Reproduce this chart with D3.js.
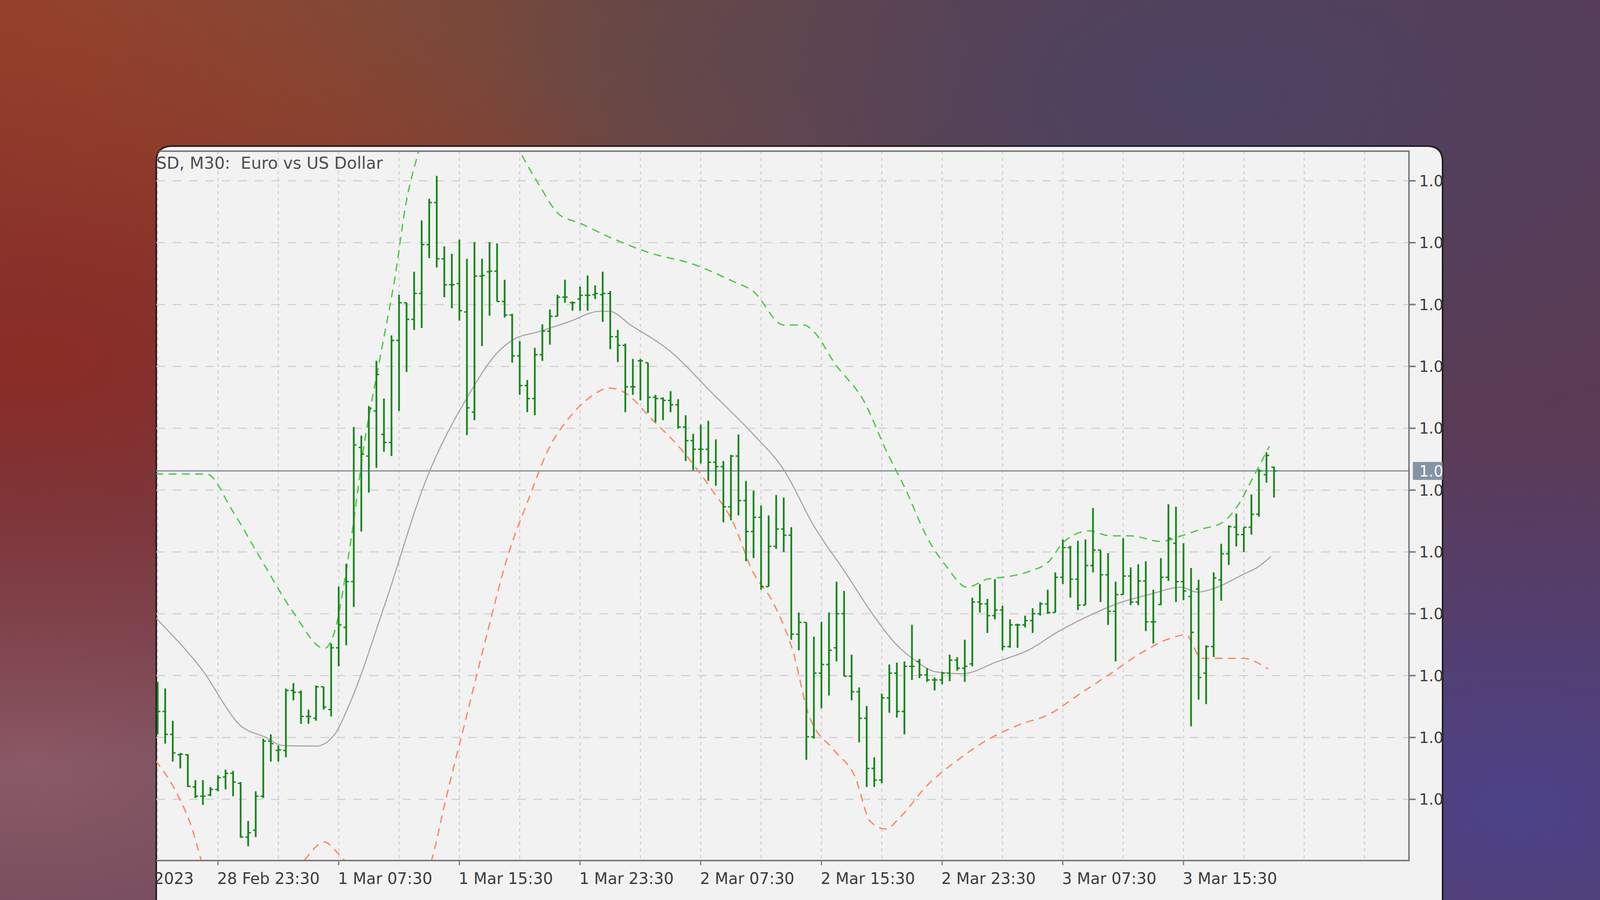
<!DOCTYPE html>
<html><head><meta charset="utf-8">
<script src="https://cdn.jsdelivr.net/npm/d3@7"></script>
<style>html,body{margin:0;padding:0;overflow:hidden;background:#5a3d55}</style>
</head><body>
<script>
// ===== DATA (EURUSD M30, bar 0 = 28 Feb 19:30) =====
const opens=[1.06038,1.06042,1.06005,1.05972,1.05972,1.05920,1.05905,1.05907,1.05916,1.05936,1.05942,1.05926,1.05839,1.05850,1.05905,1.05994,1.05979,1.05979,1.06076,1.06073,1.06034,1.06031,1.06082,1.06045,1.06145,1.06178,1.06252,1.06469,1.06455,1.06528,1.06490,1.06477,1.06642,1.06703,1.06676,1.06718,1.06797,1.06865,1.06774,1.06732,1.06734,1.06688,1.06526,1.06746,1.06753,1.06754,1.06705,1.06683,1.06617,1.06569,1.06548,1.06619,1.06657,1.06681,1.06712,1.06703,1.06709,1.06715,1.06716,1.06716,1.06718,1.06648,1.06634,1.06567,1.06609,1.06606,1.06550,1.06548,1.06545,1.06538,1.06502,1.06480,1.06466,1.06466,1.06445,1.06438,1.06373,1.06455,1.06383,1.06333,1.06356,1.06244,1.06309,1.06337,1.06327,1.06167,1.06186,1.06001,1.06104,1.06118,1.06145,1.06200,1.06099,1.06074,1.06031,1.05950,1.05931,1.06064,1.06104,1.06042,1.06115,1.06123,1.06101,1.06093,1.06093,1.06104,1.06125,1.06112,1.06119,1.06219,1.06216,1.06197,1.06206,1.06147,1.06182,1.06182,1.06189,1.06200,1.06216,1.06202,1.06259,1.06307,1.06256,1.06214,1.06278,1.06303,1.06263,1.06204,1.06231,1.06261,1.06219,1.06253,1.06187,1.06215,1.06259,1.06314,1.06252,1.06228,1.06240,1.06104,1.06147,1.06255,1.06297,1.06340,1.06328,1.06340,1.06361,1.06425,1.06437];
const highs=[1.06090,1.06079,1.06027,1.05975,1.05973,1.05931,1.05931,1.05920,1.05939,1.05948,1.05946,1.05928,1.05865,1.05913,1.05998,1.06005,1.05987,1.06079,1.06088,1.06076,1.06045,1.06084,1.06082,1.06152,1.06244,1.06281,1.06502,1.06488,1.06536,1.06609,1.06548,1.06650,1.06716,1.06703,1.06753,1.06836,1.06871,1.06908,1.06794,1.06782,1.06805,1.06774,1.06801,1.06774,1.06801,1.06799,1.06740,1.06685,1.06641,1.06578,1.06630,1.06668,1.06692,1.06716,1.06740,1.06705,1.06729,1.06747,1.06731,1.06753,1.06722,1.06659,1.06637,1.06612,1.06612,1.06606,1.06554,1.06550,1.06560,1.06547,1.06521,1.06491,1.06506,1.06512,1.06482,1.06447,1.06457,1.06490,1.06415,1.06399,1.06375,1.06359,1.06392,1.06388,1.06340,1.06202,1.06186,1.06163,1.06187,1.06202,1.06252,1.06237,1.06134,1.06081,1.06051,1.05968,1.06071,1.06118,1.06121,1.06123,1.06182,1.06127,1.06112,1.06097,1.06106,1.06134,1.06130,1.06158,1.06226,1.06248,1.06224,1.06256,1.06213,1.06191,1.06184,1.06197,1.06209,1.06219,1.06239,1.06267,1.06320,1.06310,1.06318,1.06320,1.06371,1.06303,1.06298,1.06252,1.06322,1.06275,1.06280,1.06285,1.06239,1.06290,1.06377,1.06373,1.06314,1.06274,1.06255,1.06149,1.06267,1.06313,1.06343,1.06362,1.06340,1.06393,1.06434,1.06461,1.06438];
const lows=[1.06005,1.05990,1.05961,1.05950,1.05920,1.05902,1.05891,1.05905,1.05913,1.05916,1.05905,1.05838,1.05824,1.05839,1.05902,1.05961,1.05961,1.05968,1.06060,1.06022,1.06022,1.06027,1.06045,1.06034,1.06115,1.06149,1.06211,1.06333,1.06396,1.06436,1.06462,1.06455,1.06528,1.06591,1.06659,1.06662,1.06775,1.06760,1.06712,1.06694,1.06674,1.06489,1.06513,1.06633,1.06682,1.06705,1.06679,1.06606,1.06554,1.06526,1.06521,1.06609,1.06635,1.06681,1.06703,1.06690,1.06690,1.06690,1.06709,1.06672,1.06628,1.06607,1.06526,1.06554,1.06545,1.06525,1.06510,1.06513,1.06526,1.06499,1.06447,1.06432,1.06443,1.06415,1.06407,1.06348,1.06351,1.06359,1.06285,1.06290,1.06239,1.06244,1.06305,1.06300,1.06158,1.06141,1.05964,1.05998,1.06047,1.06068,1.06123,1.06099,1.06060,1.05992,1.05920,1.05920,1.05926,1.06040,1.06032,1.06005,1.06093,1.06096,1.06090,1.06076,1.06086,1.06091,1.06108,1.06090,1.06115,1.06202,1.06169,1.06191,1.06141,1.06145,1.06145,1.06178,1.06169,1.06197,1.06200,1.06202,1.06248,1.06226,1.06206,1.06214,1.06267,1.06219,1.06182,1.06123,1.06231,1.06214,1.06214,1.06172,1.06152,1.06214,1.06253,1.06219,1.06222,1.06018,1.06061,1.06054,1.06130,1.06221,1.06279,1.06309,1.06300,1.06328,1.06357,1.06412,1.06388];
const closes=[1.06042,1.06005,1.05975,1.05973,1.05921,1.05905,1.05905,1.05916,1.05935,1.05942,1.05928,1.05839,1.05846,1.05905,1.05994,1.05990,1.05980,1.06076,1.06073,1.06034,1.06034,1.06082,1.06049,1.06145,1.06182,1.06252,1.06473,1.06458,1.06532,1.06587,1.06477,1.06642,1.06703,1.06676,1.06718,1.06797,1.06865,1.06774,1.06732,1.06732,1.06690,1.06533,1.06746,1.06747,1.06754,1.06705,1.06683,1.06617,1.06569,1.06548,1.06619,1.06657,1.06681,1.06712,1.06712,1.06703,1.06715,1.06715,1.06718,1.06718,1.06648,1.06634,1.06567,1.06567,1.06609,1.06550,1.06548,1.06545,1.06538,1.06502,1.06480,1.06466,1.06466,1.06445,1.06438,1.06373,1.06455,1.06383,1.06333,1.06356,1.06244,1.06309,1.06337,1.06327,1.06167,1.06186,1.06001,1.06104,1.06118,1.06141,1.06200,1.06099,1.06074,1.06031,1.05950,1.05931,1.06064,1.06104,1.06042,1.06115,1.06115,1.06101,1.06093,1.06093,1.06104,1.06125,1.06112,1.06115,1.06219,1.06216,1.06197,1.06206,1.06147,1.06182,1.06182,1.06189,1.06200,1.06216,1.06202,1.06259,1.06307,1.06256,1.06214,1.06278,1.06303,1.06263,1.06204,1.06231,1.06261,1.06219,1.06253,1.06187,1.06187,1.06259,1.06322,1.06252,1.06237,1.06170,1.06097,1.06147,1.06258,1.06297,1.06341,1.06328,1.06340,1.06361,1.06431,1.06456,1.06431];
// Indicator lines: [bar position, price]
const maLine=[[-0.3,1.06194],[5.8,1.06111],[11.2,1.06017],[14.2,1.06001],[16.6,1.05987],[21.0,1.05986],[23.4,1.06004],[25.4,1.06053],[30.2,1.06218],[35.6,1.06417],[41.0,1.06549],[45.1,1.06623],[47.1,1.06643],[50.5,1.06656],[54.5,1.06672],[58.6,1.06689],[59.9,1.06689],[62.7,1.06667],[68.1,1.06623],[73.5,1.06557],[78.9,1.06491],[83.0,1.06433],[87.0,1.06342],[91.1,1.06268],[95.1,1.06194],[97.8,1.06152],[100.5,1.06124],[103.2,1.06106],[106.6,1.06103],[111.4,1.06123],[115.4,1.06141],[119.5,1.06172],[123.5,1.06197],[127.6,1.06218],[131.7,1.06232],[135.7,1.06243],[137.8,1.06235],[139.8,1.06240],[143.8,1.06263],[145.9,1.06276],[147.6,1.06293]];
const upperBand=[[-0.3,1.06426],[6.5,1.06426],[9.9,1.06367],[13.9,1.06284],[18.0,1.06202],[22.1,1.06144],[23.4,1.06169],[25.4,1.06301],[27.5,1.06483],[29.5,1.06615],[31.5,1.06747],[32.9,1.06862],[34.6,1.06948],[41.0,1.07159],[48.0,1.06948],[50.5,1.06895],[53.2,1.06846],[55.9,1.06832],[59.9,1.06809],[65.4,1.06783],[70.8,1.06766],[76.2,1.06738],[78.9,1.06722],[83.0,1.06667],[85.7,1.06667],[87.0,1.06656],[89.7,1.06606],[93.8,1.06540],[96.5,1.06466],[99.2,1.06400],[101.9,1.06326],[104.6,1.06276],[107.3,1.06243],[110.0,1.06256],[112.7,1.06260],[115.4,1.06268],[118.1,1.06284],[120.2,1.06317],[123.5,1.06334],[126.3,1.06326],[129.0,1.06326],[133.0,1.06317],[135.7,1.06326],[138.4,1.06337],[141.1,1.06347],[143.2,1.06375],[145.2,1.06420],[147.4,1.06471]];
const lowerBand=[[-0.3,1.05963],[2.4,1.05913],[4.5,1.05855],[5.8,1.05801],[12.6,1.05674],[19.4,1.05801],[22.1,1.05831],[23.8,1.05814],[24.8,1.05801],[30.2,1.05674],[36.3,1.05801],[38.3,1.05905],[41.0,1.06037],[43.7,1.06169],[46.4,1.06293],[49.1,1.06383],[51.8,1.06466],[54.5,1.06516],[57.2,1.06549],[59.9,1.06565],[62.0,1.06557],[65.4,1.06516],[69.4,1.06466],[73.5,1.06400],[76.2,1.06350],[78.9,1.06268],[81.6,1.06218],[84.3,1.06136],[86.3,1.06037],[89.7,1.05979],[92.4,1.05938],[94.5,1.05864],[96.5,1.05852],[98.5,1.05872],[101.9,1.05921],[106.0,1.05963],[110.0,1.05996],[114.1,1.06020],[118.1,1.06037],[122.2,1.06070],[126.3,1.06103],[130.3,1.06136],[134.4,1.06161],[136.3,1.06166],[138.4,1.06128],[143.8,1.06128],[147.2,1.06111]];
const priceTicks=[1.0590,1.0600,1.0610,1.0620,1.0630,1.0640,1.0650,1.0660,1.0670,1.0680,1.0690];
const timeLabels=[[-8,"28 Feb 2023"],[8,"28 Feb 23:30"],[24,"1 Mar 07:30"],[40,"1 Mar 15:30"],[56,"1 Mar 23:30"],[72,"2 Mar 07:30"],[88,"2 Mar 15:30"],[104,"2 Mar 23:30"],[120,"3 Mar 07:30"],[136,"3 Mar 15:30"]];
const gridBars=[0,8,16,24,32,40,48,56,64,72,80,88,96,104,112,120,128,136,144,152,160];
const title="EURUSD, M30:  Euro vs US Dollar";
const currentPrice=1.06431;

// ===== LAYOUT =====
const W=4098,H=2304;
const panel={x:400,y:374,r:3693};
const plot={l:400,t:387,r:3607,b:2203};
const svg=d3.select("body").append("svg").attr("width",W).attr("height",H);
const defs=svg.append("defs");
const bgs=[["g1",0.05,0.05,"#8e3a2c"],["g2",0.2,0.12,"#a24c2a"],["g3",0.45,0.05,"#6a4a40"],["g4",0.75,0.1,"#4c4262"],["g5",0.95,0.9,"#4c4288"],["g6",0.02,0.85,"#8a5a66"],["g7",0.02,0.4,"#8a2c26"]];
svg.append("rect").attr("width",W).attr("height",H).attr("fill","#5c3a52");
bgs.forEach(([id,cx,cy,c])=>{
  const g=defs.append("radialGradient").attr("id",id).attr("cx",cx).attr("cy",cy).attr("r",0.45);
  g.append("stop").attr("offset","0%").attr("stop-color",c).attr("stop-opacity",1);
  g.append("stop").attr("offset","100%").attr("stop-color",c).attr("stop-opacity",0);
  svg.append("rect").attr("width",W).attr("height",H).attr("fill",`url(#${id})`);
});
const pr=40;
const panelPath=`M${panel.x},${H+10} L${panel.x},${panel.y+pr} Q${panel.x},${panel.y} ${panel.x+pr},${panel.y} L${panel.r-pr},${panel.y} Q${panel.r},${panel.y} ${panel.r},${panel.y+pr} L${panel.r},${H+10} Z`;
defs.append("clipPath").attr("id","pclip").append("path").attr("d",panelPath);
defs.append("clipPath").attr("id","plotclip").append("rect").attr("x",plot.l).attr("y",plot.t).attr("width",plot.r-plot.l).attr("height",plot.b-plot.t);
svg.append("path").attr("d",panelPath).attr("fill","#f2f2f2").attr("stroke","#1e1e1e").attr("stroke-width",4);
const P=svg.append("g").attr("clip-path","url(#pclip)");

const x=d3.scaleLinear().domain([0,148]).range([403.6,3261.5]);
const y=d3.scaleLinear().domain([1.05801,1.06948]).range([plot.b,plot.t]);

const G=P.append("g").attr("clip-path","url(#plotclip)");
G.selectAll(".hg").data(priceTicks).join("line").attr("x1",plot.l).attr("x2",plot.r).attr("y1",d=>y(d)).attr("y2",d=>y(d))
 .attr("stroke","#d2d2d2").attr("stroke-width",3).attr("stroke-dasharray","22,20");
G.selectAll(".vg").data(gridBars).join("line").attr("x1",d=>x(d)).attr("x2",d=>x(d)).attr("y1",plot.t).attr("y2",plot.b)
 .attr("stroke","#d2d2d2").attr("stroke-width",3).attr("stroke-dasharray","8,9");
G.append("line").attr("x1",plot.l).attr("x2",plot.r).attr("y1",y(currentPrice)).attr("y2",y(currentPrice)).attr("stroke","#8a96a2").attr("stroke-width",3.5);
const ln=d3.line().x(d=>x(d[0])).y(d=>y(d[1])).curve(d3.curveMonotoneX);
G.append("path").attr("d",ln(maLine)).attr("fill","none").attr("stroke","#a8a8a8").attr("stroke-width",3);
G.append("path").attr("d",ln(upperBand)).attr("fill","none").attr("stroke","#4ccc44").attr("stroke-width",3.5).attr("stroke-dasharray","20,14");
G.append("path").attr("d",ln(lowerBand)).attr("fill","none").attr("stroke","#ff8a60").attr("stroke-width",3.5).attr("stroke-dasharray","20,14");
const bars=d3.range(opens.length).map(i=>({i,o:opens[i],h:highs[i],l:lows[i],c:closes[i]}));
const bg=G.append("g").attr("stroke","#16871a").attr("stroke-width",4.5);
bg.selectAll(".w").data(bars).join("line").attr("x1",d=>x(d.i)).attr("x2",d=>x(d.i)).attr("y1",d=>y(d.h)).attr("y2",d=>Math.max(y(d.l),y(d.h)+3));
bg.selectAll(".o").data(bars).join("line").attr("x1",d=>x(d.i)-7).attr("x2",d=>x(d.i)).attr("y1",d=>y(d.o)).attr("y2",d=>y(d.o)).attr("stroke-width",3.5);
bg.selectAll(".c").data(bars).join("line").attr("x1",d=>x(d.i)).attr("x2",d=>x(d.i)+7).attr("y1",d=>y(d.c)).attr("y2",d=>y(d.c)).attr("stroke-width",3.5);

P.append("path").attr("d",`M${plot.l-5},${plot.t} H${plot.r} V${plot.b} H${plot.l-5}`).attr("fill","none").attr("stroke","#7c7c7c").attr("stroke-width",4);
const font="'DejaVu Sans', Verdana, sans-serif";
P.selectAll(".yt").data(priceTicks).join("line").attr("x1",plot.r).attr("x2",plot.r+17).attr("y1",d=>y(d)).attr("y2",d=>y(d)).attr("stroke","#7c7c7c").attr("stroke-width",4);
P.selectAll(".yl").data(priceTicks).join("text").attr("x",plot.r+26).attr("y",d=>y(d)).attr("dy","0.36em")
 .attr("font-family",font).attr("font-size",39).attr("fill","#3c3c3c").text(d=>d.toFixed(5));
P.append("rect").attr("x",plot.r+10).attr("y",y(currentPrice)-23).attr("width",120).attr("height",46).attr("fill","#8494a6");
P.append("text").attr("x",plot.r+26).attr("y",y(currentPrice)).attr("dy","0.36em").attr("font-family",font).attr("font-size",39).attr("fill","#ffffff").text(currentPrice.toFixed(5));
P.selectAll(".xt").data(timeLabels).join("line").attr("x1",d=>x(d[0])).attr("x2",d=>x(d[0])).attr("y1",plot.b).attr("y2",plot.b+12).attr("stroke","#7c7c7c").attr("stroke-width",3);
P.selectAll(".xl").data(timeLabels).join("text").attr("x",d=>x(d[0])-2).attr("y",2263)
 .attr("font-family",font).attr("font-size",40).attr("fill","#3c3c3c").text(d=>d[1]);
P.append("text").attr("x",980).attr("y",432).attr("text-anchor","end").attr("font-family",font).attr("font-size",42)
 .attr("fill","#4e4e4e").style("white-space","pre").text(title);
</script>
</body></html>
